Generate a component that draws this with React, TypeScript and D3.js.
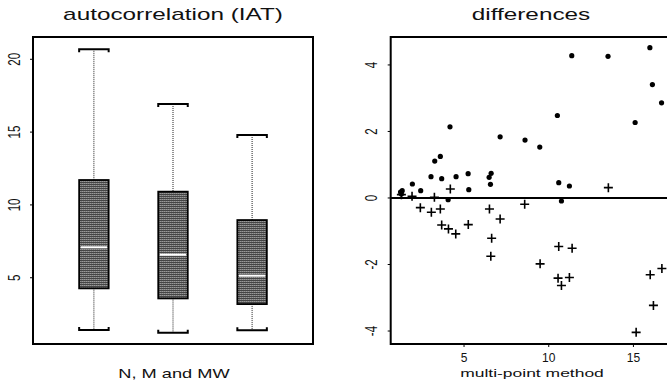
import React from "react";
import * as d3 from "d3";

// box plot summary
const groups = ["N", "M", "MW"];
const lowWhisker = [1.41, 1.22, 1.39];
const lowerQuartile = [4.27, 3.58, 3.19];
const medians = [7.09, 6.58, 5.14];
const upperQuartile = [11.71, 10.91, 8.96];
const highWhisker = [20.69, 16.93, 14.8];
const boxTicks = [5, 10, 15, 20];

// differences scatter: filled dots
const dotX = [1.25, 1.35, 1.3, 1.95, 2.44, 3.05, 3.27, 3.6, 3.68, 4.06, 4.17, 4.53, 5.24, 5.28, 6.48, 6.6, 6.56, 7.13, 8.6, 9.47, 10.51, 10.59, 10.75, 11.22, 11.36, 13.5, 15.1, 15.97, 16.12, 16.66];
const dotY = [0.18, 0.22, 0.12, 0.42, 0.22, 0.64, 1.11, 1.25, 0.58, -0.05, 2.14, 0.64, 0.73, 0.25, 0.62, 0.74, 0.41, 1.84, 1.74, 1.53, 2.48, 0.46, -0.09, 0.36, 4.28, 4.26, 2.27, 4.52, 3.41, 2.86];
// plus markers
const plusX = [1.3, 1.93, 3.25, 4.19, 2.42, 3.07, 3.6, 3.68, 4.08, 4.51, 5.25, 6.5, 7.13, 6.63, 6.58, 8.58, 9.49, 10.59, 11.38, 10.55, 11.22, 10.75, 13.52, 15.16, 15.99, 16.18, 16.68];
const plusY = [0.1, 0.05, 0.02, 0.27, -0.29, -0.43, -0.33, -0.81, -0.93, -1.08, -0.8, -0.33, -0.63, -1.21, -1.75, -0.19, -1.98, -1.46, -1.51, -2.41, -2.39, -2.63, 0.31, -4.04, -2.31, -3.23, -2.12];
const diffXTicks = [5, 10, 15];
const diffYTicks = [-4, -2, 0, 2, 4];

const font = "'Liberation Sans', Arial, sans-serif";
const stretch = 1.52; // the original device draws text wide

const Label = ({ x, y, size, children }: any) => (
  <text
    transform={`translate(${x},${y}) scale(${stretch},1)`}
    textAnchor="middle"
    fontSize={size}
    fill="#111"
  >
    {children}
  </text>
);

const App = () => {
  const width = 667;
  const height = 385;
  const top = 37;
  const bottom = 344;

  // left panel
  const lx = d3.scaleLinear().domain([0.23, 3.77]).range([33, 313]);
  const ly = d3.scaleLinear().domain([0.45, 21.53]).range([bottom, top]);
  const boxW = 29.5;

  // right panel
  const rx = d3.scaleLinear().domain([0.67, 17.2]).range([390.7, 670.7]);
  const ry = d3.scaleLinear().domain([-4.39, 4.84]).range([bottom, top]);

  return (
    <svg
      width={width}
      height={height}
      style={{ position: "absolute", left: 0, top: 0, background: "#fff" }}
      fontFamily={font}
    >
      <defs>
        <pattern id="hatch" width="2" height="2" patternUnits="userSpaceOnUse">
          <rect width="2" height="2" fill="#454545" />
          <rect y="1" width="1" height="1" fill="#999" />
          <rect x="1" y="1" width="1" height="1" fill="#777" />
        </pattern>
      </defs>

      {/* left: boxplot */}
      <Label x={173} y={19.5} size={16}>autocorrelation (IAT)</Label>
      {groups.map((g, i) => {
        const cx = lx(i + 1);
        const x0 = cx - boxW / 2;
        const x1 = cx + boxW / 2;
        return (
          <g key={g}>
            <line x1={cx} x2={cx} y1={ly(highWhisker[i])} y2={ly(upperQuartile[i])} stroke="#222" strokeDasharray="1,1" />
            <line x1={cx} x2={cx} y1={ly(lowerQuartile[i])} y2={ly(lowWhisker[i])} stroke="#222" strokeDasharray="1,1" />
            <path
              d={`M${x0},${ly(highWhisker[i]) + 3}V${ly(highWhisker[i])}H${x1}V${ly(highWhisker[i]) + 3}`}
              fill="none"
              stroke="#000"
              strokeWidth={2}
            />
            <path
              d={`M${x0},${ly(lowWhisker[i]) - 3}V${ly(lowWhisker[i])}H${x1}V${ly(lowWhisker[i]) - 3}`}
              fill="none"
              stroke="#000"
              strokeWidth={2}
            />
            <rect
              x={x0}
              y={ly(upperQuartile[i])}
              width={boxW}
              height={ly(lowerQuartile[i]) - ly(upperQuartile[i])}
              fill="url(#hatch)"
              stroke="#000"
              strokeWidth={1.8}
            />
            <line x1={x0 + 1.5} x2={x1 - 1.5} y1={ly(medians[i])} y2={ly(medians[i])} stroke="#fff" strokeWidth={2} />
          </g>
        );
      })}
      <rect x={33} y={top} width={280} height={bottom - top} fill="none" stroke="#000" strokeWidth={2} />
      {boxTicks.map((t) => (
        <g key={t}>
          <line x1={30} x2={33} y1={ly(t)} y2={ly(t)} stroke="#000" />
          <text
            transform={`translate(20,${ly(t)}) scale(1.45,1) rotate(-90)`}
            textAnchor="middle"
            fontSize={11.5}
            fill="#111"
          >
            {t}
          </text>
        </g>
      ))}
      <Label x={174} y={378} size={12}>N, M and MW</Label>

      {/* right: differences scatter */}
      <Label x={531} y={19.5} size={16}>differences</Label>
      <line x1={rx(0.67)} x2={rx(17.2)} y1={ry(0)} y2={ry(0)} stroke="#000" strokeWidth={2} />
      {dotX.map((v, i) => (
        <circle key={"d" + i} cx={rx(v)} cy={ry(dotY[i])} r={2.6} fill="#000" />
      ))}
      {plusX.map((v, i) => (
        <path
          key={"p" + i}
          d={`M${rx(v) - 4.5},${ry(plusY[i])}h9M${rx(v)},${ry(plusY[i]) - 4.5}v9`}
          stroke="#000"
          strokeWidth={1.6}
        />
      ))}
      <rect x={390.7} y={top} width={280} height={bottom - top} fill="none" stroke="#000" strokeWidth={2} />
      {diffYTicks.map((t) => (
        <g key={t}>
          <line x1={387.7} x2={390.7} y1={ry(t)} y2={ry(t)} stroke="#000" />
          <text
            transform={`translate(376.7,${ry(t)}) scale(1.45,1) rotate(-90)`}
            textAnchor="middle"
            fontSize={11.5}
            fill="#111"
          >
            {t}
          </text>
        </g>
      ))}
      {diffXTicks.map((t) => (
        <g key={t}>
          <line x1={rx(t)} x2={rx(t)} y1={bottom} y2={bottom + 3} stroke="#000" />
          <text x={rx(t)} y={361.5} textAnchor="middle" fontSize={12} fill="#111">
            {t}
          </text>
        </g>
      ))}
      <Label x={532} y={377} size={11.5}>multi-point method</Label>
    </svg>
  );
};

export default App;
